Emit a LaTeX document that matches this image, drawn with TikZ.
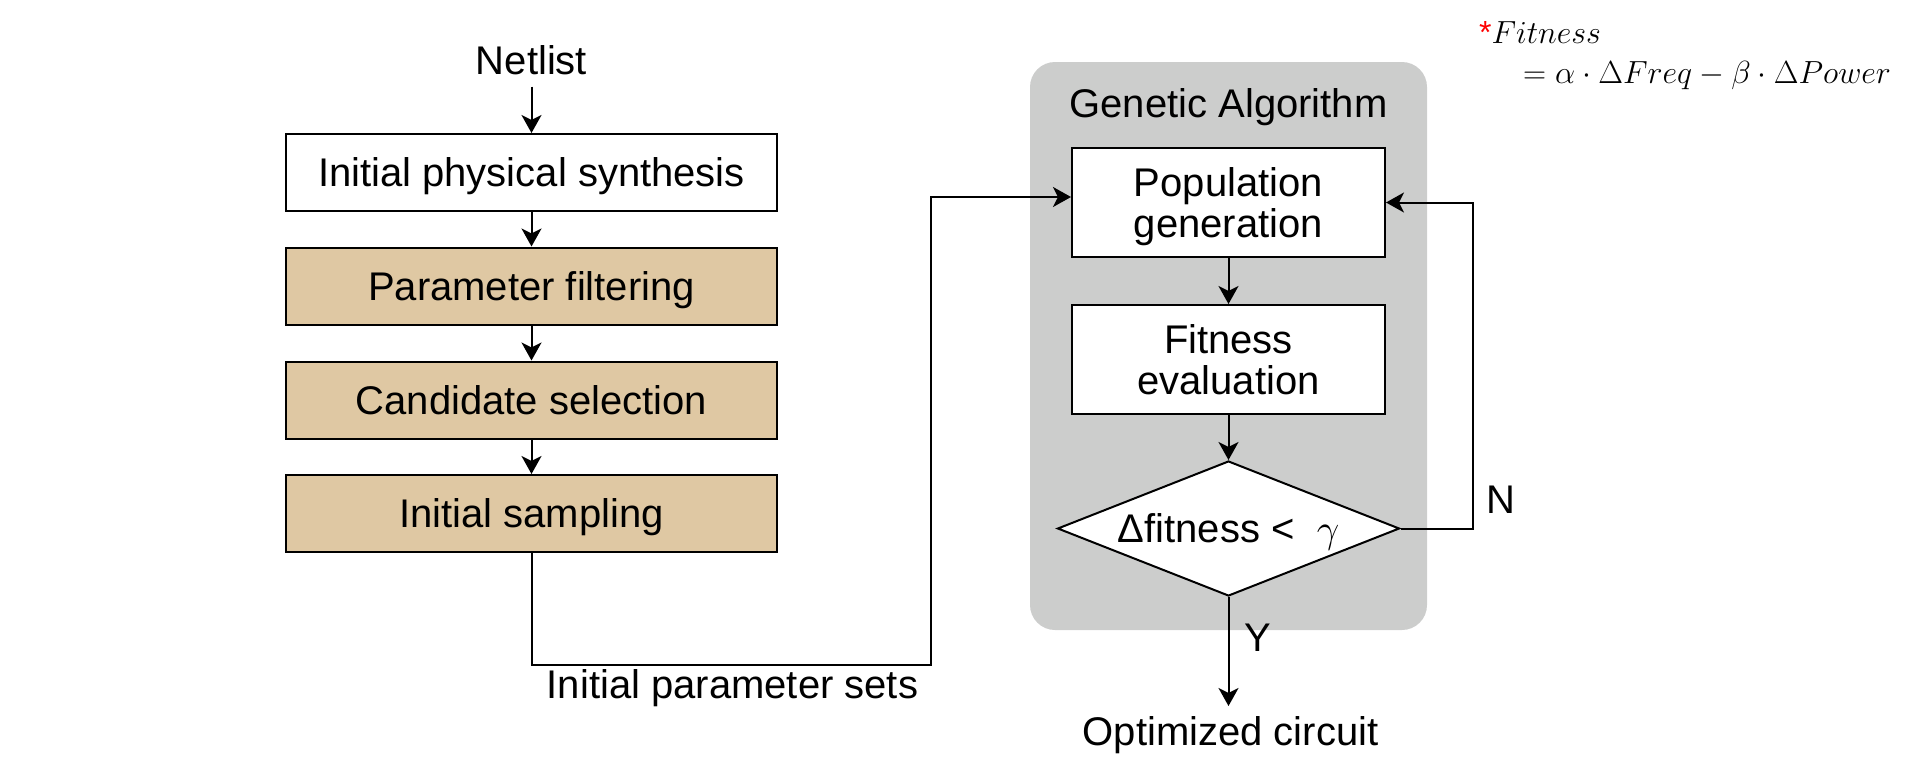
\RequirePackage{fix-cm}
\documentclass[tikz,border=0pt]{standalone}
\usepackage[no-math]{fontspec}
\setmainfont{Liberation Sans}
\usetikzlibrary{arrows.meta,shapes.geometric}
\definecolor{tanfill}{RGB}{223,200,163}
\definecolor{gabg}{RGB}{204,205,204}
\begin{document}
\begin{tikzpicture}[x=1pt,y=-1pt,
  every node/.style={font=\fontsize{40}{41}\selectfont, inner sep=0pt},
  lbl/.style={text height=28.6pt,text depth=0pt},
  onebox/.style={draw,line width=2pt,minimum width=491pt,minimum height=77pt,text height=28.6pt,text depth=0pt},
  twobox/.style={draw,fill=white,line width=2pt,minimum width=313pt,minimum height=109pt,align=center,text height=69.6pt,text depth=0pt},
  arr/.style={line width=2pt,-{Stealth[length=18pt,width=20pt,inset=5pt]}},
  formula/.style={font=\fontsize{32}{36}\selectfont, anchor=base west}
]
\path[use as bounding box] (0,0) rectangle (1907,758);

% left column
\node[lbl] (net) at (531.5,60) {Netlist};
\node[onebox,fill=white] (b1) at (531.5,172.5) {Initial physical synthesis};
\node[onebox,fill=tanfill] (b2) at (531.5,286) {Parameter filtering};
\node[onebox,fill=tanfill] (b3) at (531.5,400) {Candidate selection};
\node[onebox,fill=tanfill] (b4) at (531.5,513.5) {Initial sampling};
\node[lbl] (ips) at (732.5,684) {Initial parameter sets};

% genetic algorithm block
\node[fill=gabg,rounded corners=25pt,minimum width=397pt,minimum height=568pt] (ga) at (1228.5,346) {};
\node[lbl] (gat) at (1228.5,103) {Genetic Algorithm};
\node[twobox] (pop) at (1228.5,202.5) {Population\\generation};
\node[twobox] (fit) at (1228.5,359.5) {Fitness\\evaluation};
\node[diamond,draw,fill=white,line width=2pt,aspect=2.533,minimum width=342pt,minimum height=135pt,text height=28.6pt,text depth=0pt] (dia) at (1228.5,528.5) {Δfitness <\ \ $\gamma$};
\node[lbl] (nlab) at (1501,499.5) {N};
\node[lbl] (ylab) at (1258,637) {Y};
\node[lbl] (opt) at (1230.5,731.5) {Optimized circuit};

% formula
\node[formula] (f1) at (1479,43) {\textcolor{red}{*}$Fitness$};
\node[formula] (f2) at (1523,83) {$=\alpha\cdot\Delta Freq-\beta\cdot\Delta Power$};

\coordinate (c1) at (931,665);
\coordinate (fb) at (1473,202.5);

% connectors
\draw[arr,shorten <=12pt] (net.south) -- (b1.north);
\draw[arr] (b1) -- (b2);
\draw[arr] (b2) -- (b3);
\draw[arr] (b3) -- (b4);
\draw[arr] (b4.south) |- (c1) |- ([yshift=5.5pt]pop.west);
\draw[arr] (pop) -- (fit);
\draw[arr] (fit) -- (dia);
\draw[arr] (dia.east) -| (fb) -- (pop.east);
\draw[arr,shorten >=11pt] (dia.south) -- (dia.south |- opt.north);
\end{tikzpicture}
\end{document}
